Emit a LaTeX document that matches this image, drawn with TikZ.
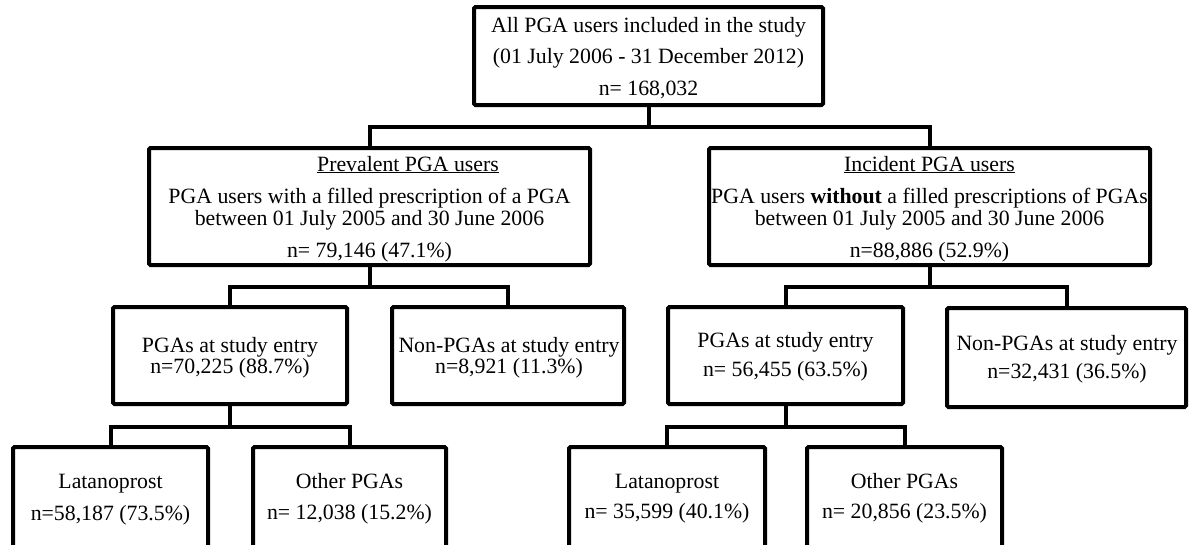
\documentclass[tikz,border=0pt]{standalone}
\usepackage{fontspec}
\setmainfont{Liberation Serif}
\begin{document}
\begin{tikzpicture}[x=1pt,y=-1pt,
  box/.style={draw=black, line width=4pt, rectangle, rounded corners=1.5pt, inner sep=0pt, outer sep=0pt},
  conn/.style={draw=black, line width=4pt, line join=miter},
  txt/.style={anchor=base, inner sep=0pt, outer sep=0pt, text=black, font=\fontsize{21.8}{24}\selectfont}]
\clip (0,0) rectangle (1190,544);
\fill[white] (0,0) rectangle (1190,544);
% boxes
\node[box, minimum width=349pt, minimum height=98pt] (top) at (648.5,56) {};
\node[box, minimum width=441pt, minimum height=117pt] (prev) at (369.5,206.5) {};
\node[box, minimum width=441pt, minimum height=117pt] (inc) at (929.5,206.5) {};
\node[box, minimum width=234pt, minimum height=97pt] (pgaL) at (230,355.5) {};
\node[box, minimum width=232pt, minimum height=97pt] (nonL) at (508,355.5) {};
\node[box, minimum width=235pt, minimum height=97pt] (pgaR) at (785.5,355.5) {};
\node[box, minimum width=239pt, minimum height=99pt] (nonR) at (1066.5,357.5) {};
\node[box, minimum width=195pt, minimum height=153pt] (latL) at (110.5,523.5) {};
\node[box, minimum width=193pt, minimum height=153pt] (othL) at (349.5,523.5) {};
\node[box, minimum width=196pt, minimum height=153pt] (latR) at (667,523.5) {};
\node[box, minimum width=195pt, minimum height=153pt] (othR) at (904.5,523.5) {};
% junctions
\coordinate (j1) at (648.5,127);
\coordinate (j2) at (369.5,287);
\coordinate (j3) at (929.5,287);
\coordinate (j4) at (230,427);
\coordinate (j5) at (785.5,427);
% connectors
\draw[conn] (top.south) -- (j1);
\draw[conn] (prev.north) |- (j1) -| (inc.north);
\draw[conn] (prev.south) -- (j2);
\draw[conn] (pgaL.north) |- (j2) -| (nonL.north);
\draw[conn] (inc.south) -- (j3);
\draw[conn] (pgaR.north) |- (j3) -| (nonR.north);
\draw[conn] (pgaL.south) -- (j4);
\draw[conn] (latL.north) |- (j4) -| (othL.north);
\draw[conn] (pgaR.south) -- (j5);
\draw[conn] (latR.north) |- (j5) -| (othR.north);
% texts
\node[txt] (topA) at (648.5,32) {All PGA users included in the study};
\node[txt] (topB) at (648.5,63) {(01 July 2006 - 31 December 2012)};
\node[txt] (topC) at (648.5,95) {n= 168,032};
\node[txt] (prevA) at (408,171) {\underline{Prevalent PGA users}};
\node[txt] (prevB) at (369.5,203) {PGA users with a filled prescription of a PGA};
\node[txt] (prevC) at (369.5,225) {between 01 July 2005 and 30 June 2006};
\node[txt] (prevD) at (369.5,257) {n= 79,146 (47.1\%)};
\node[txt] (incA) at (929.5,171) {\underline{Incident PGA users}};
\node[txt] (incB) at (929.5,203) {PGA users \textbf{without} a filled prescriptions of PGAs};
\node[txt] (incC) at (929.5,225) {between 01 July 2005 and 30 June 2006};
\node[txt] (incD) at (929.5,257) {n=88,886 (52.9\%)};
\node[txt] (pgaLA) at (230,352) {PGAs at study entry};
\node[txt] (pgaLB) at (230,373) {n=70,225 (88.7\%)};
\node[txt] (nonLA) at (509,352) {Non-PGAs at study entry};
\node[txt] (nonLB) at (509,373) {n=8,921 (11.3\%)};
\node[txt] (pgaRA) at (785.5,347) {PGAs at study entry};
\node[txt] (pgaRB) at (785.5,376) {n= 56,455 (63.5\%)};
\node[txt] (nonRA) at (1067,350) {Non-PGAs at study entry};
\node[txt] (nonRB) at (1067,378) {n=32,431 (36.5\%)};
\node[txt] (latLA) at (110.5,488) {Latanoprost};
\node[txt] (latLB) at (110.5,520) {n=58,187 (73.5\%)};
\node[txt] (othLA) at (349.5,488) {Other PGAs};
\node[txt] (othLB) at (349.5,519) {n= 12,038 (15.2\%)};
\node[txt] (latRA) at (667,488) {Latanoprost};
\node[txt] (latRB) at (667,518) {n= 35,599 (40.1\%)};
\node[txt] (othRA) at (904.5,488) {Other PGAs};
\node[txt] (othRB) at (904.5,518) {n= 20,856 (23.5\%)};
\end{tikzpicture}
\end{document}
